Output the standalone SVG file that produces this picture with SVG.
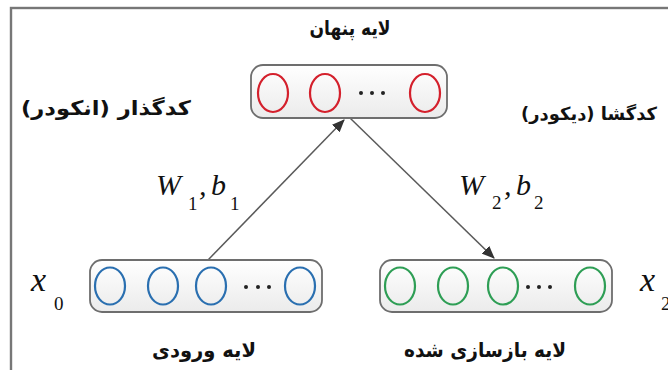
<svg xmlns="http://www.w3.org/2000/svg" width="668" height="370" viewBox="0 0 668 370">
<defs>
<linearGradient id="boxfill" x1="0" y1="0" x2="0" y2="1">
<stop offset="0" stop-color="#ffffff"/>
<stop offset="1" stop-color="#ebebeb"/>
</linearGradient>
<marker id="arrow" viewBox="0 0 12 10" refX="11" refY="5" markerWidth="13" markerHeight="11" markerUnits="userSpaceOnUse" orient="auto">
<path d="M0,0 L12,5 L0,10 z" fill="#333"/>
</marker>
</defs>
<style>
.box{fill:url(#boxfill);stroke:#6e6e6e;stroke-width:1.8}
.red{fill:none;stroke:#d4202c;stroke-width:2.2}
.blue{fill:none;stroke:#2a6fb0;stroke-width:2.2}
.green{fill:none;stroke:#2e9e55;stroke-width:2.2}
.dot{fill:#222}
.fa{font-family:"DejaVu Sans",sans-serif;font-weight:bold;font-size:20px;fill:#111;direction:rtl}
.m{font-family:"Liberation Serif",serif;font-style:italic;fill:#111;font-size:30px}
.x{font-family:"Liberation Serif",serif;font-style:italic;fill:#111;font-size:34px}
.s{font-family:"Liberation Serif",serif;fill:#111;font-size:19px}
.conn{stroke:#5a5a5a;stroke-width:1.5;fill:none}
</style>
<rect x="11" y="8" width="700" height="400" fill="#fff" stroke="#777" stroke-width="2.4"/>

<g id="connectors">
<line class="conn" x1="208" y1="260" x2="344" y2="120" marker-end="url(#arrow)"/>
<line class="conn" x1="350" y1="118" x2="494" y2="258" marker-end="url(#arrow)"/>
</g>

<g id="hidden-layer">
<rect class="box" x="251" y="65" width="196" height="53" rx="12"/>
<ellipse class="red" cx="273" cy="93" rx="15" ry="19"/>
<ellipse class="red" cx="325" cy="93" rx="15" ry="19"/>
<ellipse class="red" cx="425" cy="93" rx="15" ry="19"/>
<circle class="dot" cx="361" cy="93" r="2"/>
<circle class="dot" cx="372" cy="93" r="2"/>
<circle class="dot" cx="383" cy="93" r="2"/>
<text class="fa" x="350" y="35" text-anchor="middle" textLength="81" lengthAdjust="spacingAndGlyphs">لایه پنهان</text>
</g>

<g id="input-layer">
<rect class="box" x="90" y="260" width="232" height="52" rx="12"/>
<ellipse class="blue" cx="110" cy="286" rx="15" ry="18.5"/>
<ellipse class="blue" cx="163" cy="286" rx="15" ry="18.5"/>
<ellipse class="blue" cx="211" cy="286" rx="15" ry="18.5"/>
<ellipse class="blue" cx="300" cy="286" rx="15" ry="18.5"/>
<circle class="dot" cx="246" cy="287" r="2"/>
<circle class="dot" cx="258" cy="287" r="2"/>
<circle class="dot" cx="269" cy="287" r="2"/>
<text class="fa" x="204" y="357" text-anchor="middle" textLength="104" lengthAdjust="spacingAndGlyphs">لایه ورودی</text>
<text class="x" x="31" y="291">x</text>
<text class="s" x="54" y="310">0</text>
</g>

<g id="output-layer">
<rect class="box" x="380" y="260" width="232" height="52" rx="12"/>
<ellipse class="green" cx="400" cy="286" rx="15" ry="18.5"/>
<ellipse class="green" cx="453" cy="286" rx="15" ry="18.5"/>
<ellipse class="green" cx="503" cy="286" rx="15" ry="18.5"/>
<ellipse class="green" cx="590" cy="286" rx="15" ry="18.5"/>
<circle class="dot" cx="528" cy="287" r="2"/>
<circle class="dot" cx="539" cy="287" r="2"/>
<circle class="dot" cx="550" cy="287" r="2"/>
<text class="fa" x="485" y="357" text-anchor="middle" textLength="162" lengthAdjust="spacingAndGlyphs">لایه بازسازی شده</text>
<text class="x" x="640" y="291">x</text>
<text class="s" x="661" y="310">2</text>
</g>

<g id="encoder-label">
<text class="fa" x="106" y="115" text-anchor="middle" textLength="170" lengthAdjust="spacingAndGlyphs">کدگذار (انکودر)</text>
</g>
<g id="decoder-label">
<text class="fa" x="589" y="120" text-anchor="middle" font-size="18" style="font-size:18px" textLength="136" lengthAdjust="spacingAndGlyphs">کدگشا (دیکودر)</text>
</g>

<g id="weights-1">
<text class="m" x="156" y="195">W</text>
<text class="s" x="188" y="210">1</text>
<text class="m" x="199" y="195" font-style="normal">,</text>
<text class="m" x="211" y="195">b</text>
<text class="s" x="230" y="210">1</text>
</g>
<g id="weights-2">
<text class="m" x="459" y="195">W</text>
<text class="s" x="492" y="209">2</text>
<text class="m" x="504" y="195" font-style="normal">,</text>
<text class="m" x="516" y="195">b</text>
<text class="s" x="534" y="209">2</text>
</g>
</svg>
